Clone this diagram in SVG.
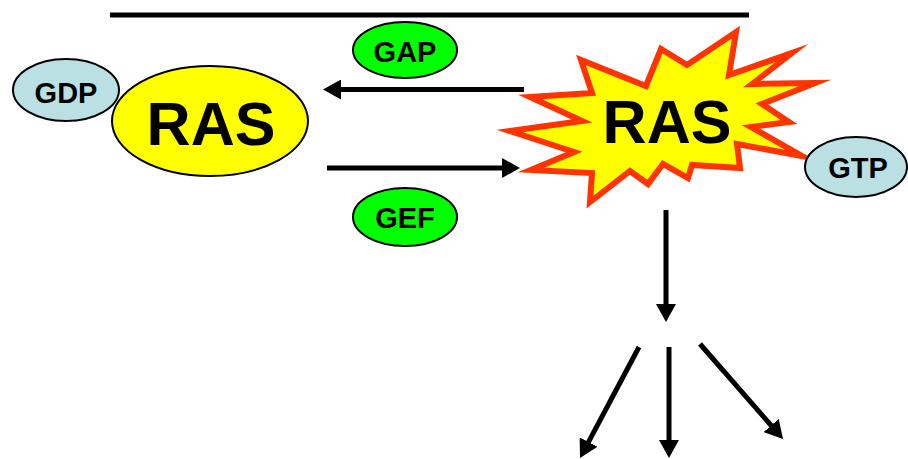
<svg xmlns="http://www.w3.org/2000/svg" width="908" height="459" viewBox="0 0 908 459">
<style>
text{font-family:"Liberation Sans",Arial,sans-serif;font-weight:bold;fill:#000;text-anchor:middle}
.sm{font-size:29px}
.big{font-size:61px}
.blue{fill:#BBE0E3;stroke:#000;stroke-width:2}
.green{fill:#00FF00;stroke:#000;stroke-width:2}
.conn{stroke:#000;stroke-width:5;fill:none}
</style>
<defs>
<marker id="ah" markerUnits="userSpaceOnUse" markerWidth="18" markerHeight="20" refX="4" refY="10" orient="auto" viewBox="0 0 18 20">
<path d="M0,0 L18,10 L0,20 z" fill="#000"/>
</marker>
</defs>
<line x1="110" y1="15" x2="749" y2="15" stroke="#000" stroke-width="5"/>
<g id="gdp">
<ellipse class="blue" cx="66" cy="90" rx="53" ry="31"/>
<text class="sm" x="66" y="103">GDP</text>
</g>
<g id="ras-inactive">
<ellipse cx="210" cy="121" rx="98" ry="55" fill="#FFFF00" stroke="#000" stroke-width="2"/>
<text class="big" x="211" y="145">RAS</text>
</g>
<g id="gap">
<ellipse class="green" cx="405" cy="50" rx="52" ry="28"/>
<text class="sm" x="405" y="62">GAP</text>
</g>
<g id="gef">
<ellipse class="green" cx="405" cy="217" rx="52" ry="29"/>
<text class="sm" x="405" y="228">GEF</text>
</g>
<g id="ras-active">
<polygon fill="#FFFF00" stroke="#FF3300" stroke-width="6" stroke-linejoin="miter" stroke-miterlimit="10" points="510,131 582,121 530,97 592,93 581,60 646,86 661,49 687,65 736,32 729,75 792,53 752,84 815,83 762,104 789,122 751,127 802,156 737,144 740,168 692,165 688,178 663,164 648,184 630,171 590,202 592,173 531,170 574,152"/>
<text class="big" x="667" y="143">RAS</text>
</g>
<g id="gtp">
<ellipse class="blue" cx="856" cy="167" rx="51" ry="30"/>
<text class="sm" x="858" y="178">GTP</text>
</g>
<g id="connectors">
<line class="conn" x1="524" y1="89.5" x2="337" y2="89.5" marker-end="url(#ah)"/>
<line class="conn" x1="327" y1="168" x2="506" y2="168" marker-end="url(#ah)"/>
<line class="conn" x1="666" y1="210" x2="666" y2="308" marker-end="url(#ah)"/>
<line class="conn" x1="669" y1="347" x2="669" y2="444" marker-end="url(#ah)"/>
<line class="conn" x1="639" y1="347" x2="586.6" y2="445.6" marker-end="url(#ah)"/>
<line class="conn" x1="700" y1="344" x2="773.8" y2="428.5" marker-end="url(#ah)"/>
</g>
</svg>
